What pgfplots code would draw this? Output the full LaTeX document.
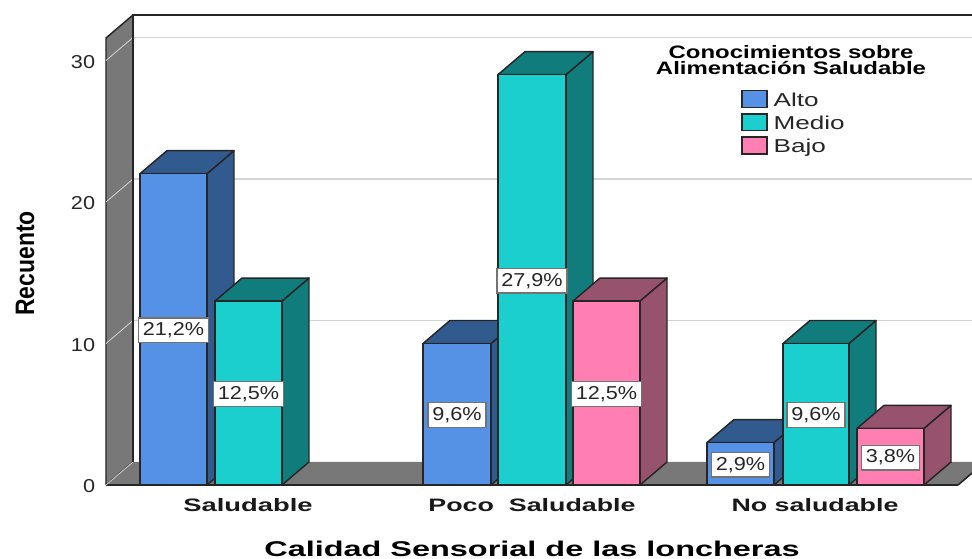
\documentclass[border=0pt]{standalone}
\usepackage{fontspec}
\setmainfont{Liberation Sans}
\usepackage{pgfplots}
\pgfplotsset{compat=1.18}

\definecolor{bluefront}{HTML}{5592E5}
\definecolor{blueshade}{HTML}{315B8F}
\definecolor{tealfront}{HTML}{1CCFCF}
\definecolor{tealshade}{HTML}{107C7C}
\definecolor{pinkfront}{HTML}{FF7FB2}
\definecolor{pinkshade}{HTML}{97526E}
\definecolor{wallgray}{HTML}{787878}
\definecolor{gridgray}{HTML}{D4D4D4}

\pgfplotsset{
  barface/.style={draw=black!85,line width=1.1pt,line join=round,no markers,forget plot},
  gridstroke/.style={draw=gridgray,line width=1.3pt,no markers,forget plot},
}

% depth of the pseudo-3D extrusion: pixels along x, counts along y
\def\dx{27}
\def\dv{1.625}

% stretched text helpers
\newcommand{\wide}[2]{\scalebox{#1}[1]{#2}}
\newcommand{\numfont}{\fontsize{14}{14}\selectfont}
\newcommand{\boldfont}{\fontsize{13.5}{13.5}\selectfont\bfseries}

% one bar: left, right, count, front colour, shade colour
\newcommand{\cuboid}[5]{%
  \pgfmathsetmacro{\xa}{#1+\dx}%
  \pgfmathsetmacro{\xb}{#2+\dx}%
  \pgfmathsetmacro{\vb}{#3+\dv}%
  \pgfmathsetmacro{\vc}{\dv}%
  \edef\faces{%
    \noexpand\addplot[barface,fill=#5] coordinates {(#2,0)(\xb,\vc)(\xb,\vb)(#2,#3)(#2,0)};
    \noexpand\addplot[barface,fill=#5] coordinates {(#1,#3)(#2,#3)(\xb,\vb)(\xa,\vb)(#1,#3)};
    \noexpand\addplot[barface,fill=#4] coordinates {(#1,0)(#2,0)(#2,#3)(#1,#3)(#1,0)};
  }\faces
}
% percentage box centred on a bar
\newcommand{\pctlabel}[4]{%
  \pgfmathsetmacro{\cx}{(#1+#2)/2}%
  \pgfmathsetmacro{\cy}{#3/2}%
  \edef\lab{\noexpand\node[pctbox] at (axis cs:\cx,\cy) {\noexpand\wide{1.16}{\unexpanded{#4}}};}\lab
}

\begin{document}
\begin{tikzpicture}[
  pctbox/.style={fill=white,draw=black!55,line width=0.9pt,inner xsep=3.2pt,inner ysep=0pt,
    minimum height=18.5pt,font=\numfont,text=black!85,yshift=-0.7pt},
]
\useasboundingbox (-79.5pt,-55.5pt) rectangle (649.5pt,363.75pt);
\begin{axis}[
  at={(0pt,0pt)},anchor=south west,
  scale only axis,width=649.5pt,height=352.5pt,
  xmin=106,xmax=972,ymin=0,ymax=33.215,
  clip=false,
  axis line style={draw=none},
  tick style={draw=none},
  major tick length=0pt,
  ytick={0,10,20,30},
  yticklabels={\wide{1.16}{0},\wide{1.16}{10},\wide{1.16}{20},\wide{1.16}{30}},
  yticklabel style={font=\numfont,text=black!85,inner sep=0pt,xshift=-8pt,yshift=-1pt},
  xtick={248,532,815},
  xticklabels={\wide{1.52}{Saludable},\wide{1.49}{Poco\ \ Saludable},\wide{1.49}{No saludable}},
  xticklabel style={font=\boldfont,text=black!90,inner sep=0pt,yshift=-10pt},
  legend style={at={(axis cs:741,27.93)},anchor=north west,draw=none,fill=none,
    inner sep=0pt,row sep=3.8pt,font=\numfont,text=black!85,
    nodes={inner sep=0pt,text height=9.5pt,text depth=3pt}},
  legend cell align=left,
  legend image code/.code={\draw[#1] (0pt,-6.3pt) rectangle (18.75pt,6.3pt);},
]
% legend keys
\addlegendimage{fill=bluefront,draw=black!85,line width=1pt}
\addlegendentry{\hspace{4.5pt}\raisebox{-2pt}{\wide{1.4}{Alto}}}
\addlegendimage{fill=tealfront,draw=black!85,line width=1pt}
\addlegendentry{\hspace{4.5pt}\raisebox{-2pt}{\wide{1.4}{Medio}}}
\addlegendimage{fill=pinkfront,draw=black!85,line width=1pt}
\addlegendentry{\hspace{4.5pt}\raisebox{-2pt}{\wide{1.4}{Bajo}}}

% left wall and floor
\addplot[barface,fill=wallgray,draw=black!85] coordinates {(106,0)(133,1.625)(133,33.215)(106,31.59)(106,0)};
\addplot[barface,fill=wallgray,draw=none] coordinates {(106,0)(958,0)(972,0.84)(972,1.625)(133,1.625)(106,0)};
\addplot[barface,draw=black!85,line width=1.2pt] coordinates {(106,0)(958,0)};
\addplot[barface,draw=black!85,line width=1.2pt] coordinates {(958,0)(972,0.84)};

% gridlines on the wall and the back plane
\addplot[gridstroke,line width=0.6pt] coordinates {(106,0)(133,1.625)};
\addplot[gridstroke,line width=0.6pt] coordinates {(106,10)(133,11.625)};
\addplot[gridstroke] coordinates {(133,11.625)(972,11.625)};
\addplot[gridstroke,line width=0.6pt] coordinates {(106,20)(133,21.625)};
\addplot[gridstroke] coordinates {(133,21.625)(972,21.625)};
\addplot[gridstroke,line width=0.6pt] coordinates {(106,30)(133,31.625)};
\addplot[gridstroke] coordinates {(133,31.625)(972,31.625)};

% back edges
\addplot[barface,line width=1.8pt] coordinates {(133,1.625)(133,33.215)(972,33.215)};

% bars, left to right so nearer faces cover the shaded sides
\cuboid{140}{207}{22}{bluefront}{blueshade}
\cuboid{215}{282}{13}{tealfront}{tealshade}
\cuboid{423}{491}{10}{bluefront}{blueshade}
\cuboid{498}{566}{29}{tealfront}{tealshade}
\cuboid{573}{640}{13}{pinkfront}{pinkshade}
\cuboid{707}{774}{3}{bluefront}{blueshade}
\cuboid{783}{849}{10}{tealfront}{tealshade}
\cuboid{857}{924}{4}{pinkfront}{pinkshade}

% percentage labels
\pctlabel{140}{207}{22}{21,2\%}
\pctlabel{215}{282}{13}{12,5\%}
\pctlabel{423}{491}{10}{9,6\%}
\pctlabel{498}{566}{29}{27,9\%}
\pctlabel{573}{640}{13}{12,5\%}
\pctlabel{707}{774}{3}{2,9\%}
\pctlabel{783}{849}{10}{9,6\%}
\pctlabel{857}{924}{4}{3,8\%}

% legend heading
\node[font=\boldfont,align=center,inner sep=0pt,text=black] at (axis cs:791,30.0)
  {\wide{1.33}{Conocimientos sobre}\\[-1.5pt]\wide{1.33}{Alimentación Saludable}};
% axis titles
\node[font=\fontsize{16}{16}\selectfont\bfseries,inner sep=0pt,text=black] at (axis cs:532,-4.48)
  {\wide{1.52}{Calidad Sensorial de las loncheras}};
\node[font=\fontsize{20}{20}\selectfont\bfseries,inner sep=0pt,text=black,rotate=90] at (axis cs:25,15.65)
  {\wide{0.86}{Recuento}};
\end{axis}
\end{tikzpicture}
\end{document}
